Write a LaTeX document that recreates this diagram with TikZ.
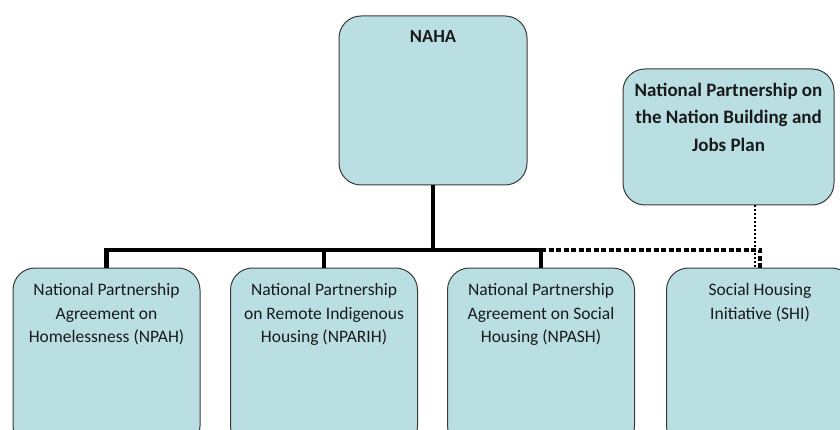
\documentclass[tikz,border=0pt]{standalone}
\usepackage{fontspec}
\setmainfont{Carlito}
\definecolor{boxfill}{HTML}{B9DFE3}
\definecolor{boxline}{HTML}{3A3A3A}
\definecolor{txt}{HTML}{1A1A1A}
\begin{document}
\begin{tikzpicture}[x=1pt,y=-1pt,
  box/.style={draw=boxline, fill=boxfill, line width=1pt, rounded corners=22pt, inner sep=0pt},
  lowbox/.style={box, minimum width=187pt, minimum height=180pt},
  lowtext/.style={align=center, anchor=north, inner sep=0pt, text=txt, font=\fontsize{17.5}{23.5}\selectfont},
  hightext/.style={align=center, anchor=north, inner sep=0pt, text=txt, font=\fontsize{19}{27.5}\selectfont\bfseries},
  conn/.style={line width=4.5pt, black},
  dashconn/.style={line width=4.5pt, black, dash pattern=on 5pt off 2.5pt},
  dotconn/.style={line width=2pt, black, dotted}]
\useasboundingbox (0,0) rectangle (840,430);
\clip (0,0) rectangle (840,430);
\fill[white] (0,0) rectangle (840,430);
\coordinate (busy) at (0,250);
% top boxes
\node[box, minimum width=188pt, minimum height=169pt] (naha) at (433,100.5) {};
\node[hightext, font=\fontsize{18.5}{22}\selectfont\bfseries] (nahat) at ([yshift=-15pt]naha.north) {NAHA};
\node[box, minimum width=211pt, minimum height=136pt] (np) at (728.5,137) {};
\node[hightext] (npt) at ([yshift=-14pt]np.north) {National Partnership on\\the Nation Building and\\Jobs Plan};
% bottom boxes
\node[lowbox] (b1) at (106.5,358) {};
\node[lowbox] (b2) at (324,358) {};
\node[lowbox] (b3) at (541,358) {};
\node[lowbox] (b4) at (760,358) {};
\node[lowtext] (b1t) at ([yshift=-16pt]b1.north) {National Partnership\\Agreement on\\Homelessness (NPAH)};
\node[lowtext] (b2t) at ([yshift=-16pt]b2.north) {National Partnership\\on Remote Indigenous\\Housing (NPARIH)};
\node[lowtext] (b3t) at ([yshift=-16pt]b3.north) {National Partnership\\Agreement on Social\\Housing (NPASH)};
\node[lowtext] (b4t) at ([yshift=-16pt]b4.north) {Social Housing\\Initiative (SHI)};
% connectors
\draw[conn] (naha.south) -- (naha.south |- busy);
\draw[conn] (b1.north) -- (b1.north |- busy) -- (b3.north |- busy) -- (b3.north);
\draw[conn] (b2.north |- busy) -- (b2.north);
\draw[dashconn] (b3.north |- busy) -- (b4.north |- busy) -- (b4.north);
\draw[dotconn] ([xshift=-5pt]b4.north |- np.south) -- ([xshift=-5pt]b4.north);
\end{tikzpicture}
\end{document}
